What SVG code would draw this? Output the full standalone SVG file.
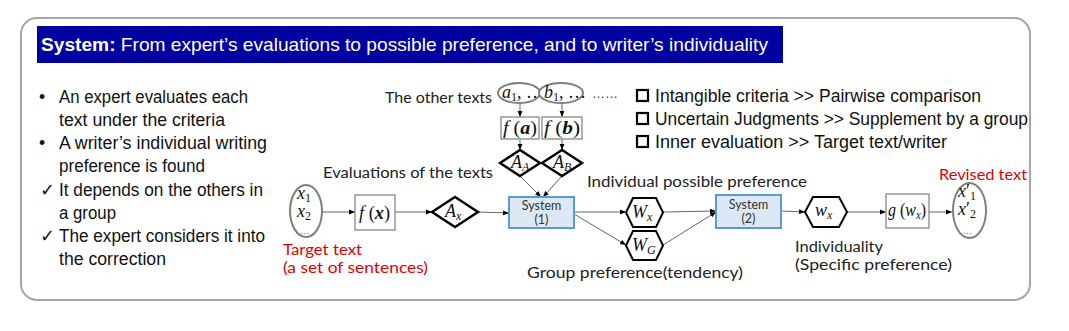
<svg xmlns="http://www.w3.org/2000/svg" width="1069" height="331" viewBox="0 0 1069 331">
<style>
.cal{font-family:"Liberation Sans",Arial,sans-serif;font-size:17.5px;fill:#111}
.gth{font-family:Lato,"Liberation Sans",sans-serif;font-size:14.5px;fill:#222}
.red{fill:#e00000}
.math{font-family:"Liberation Serif","Times New Roman",serif;font-size:18px;fill:#111}
.it{font-style:italic}
.bd{font-weight:bold}
.sub{font-size:12px}
.box{fill:#fff;stroke:#888;stroke-width:1.3}
.ell{fill:#fff;stroke:#7f7f7f;stroke-width:2}
.dia{fill:#fff;stroke:#000;stroke-width:2.4}
.hex{fill:#fff;stroke:#000;stroke-width:2}
.sys{fill:#dce8f5;stroke:#5b9bd5;stroke-width:2}
.sysT{font-family:Lato,"Liberation Sans",sans-serif;font-size:12.5px;fill:#333;text-anchor:middle}
.con line{stroke:#555;stroke-width:0.9;marker-end:url(#ah)}
.chk{fill:none;stroke:#000;stroke-width:2.2}
</style>
<defs>
<marker id="ah" viewBox="0 0 10 10" refX="10" refY="5" markerWidth="6" markerHeight="6" orient="auto" markerUnits="userSpaceOnUse">
<path d="M0,1 L10,5 L0,9 z" fill="#000"/>
</marker>
</defs>
<rect x="0" y="0" width="1069" height="331" fill="#fff"/>
<rect id="frame" x="21" y="18" width="1009" height="282" rx="16" ry="16" fill="#fff" stroke="#a6a6a6" stroke-width="2"/>
<g id="title">
<rect x="37" y="26" width="746" height="37" fill="#0000a0"/>
<text x="41" y="51" font-family="'Liberation Sans',Arial,sans-serif" font-size="18.5" fill="#fff" textLength="727" lengthAdjust="spacingAndGlyphs"><tspan font-weight="bold">System:</tspan> From expert’s evaluations to possible preference, and to writer’s individuality</text>
</g>
<g id="bullets" class="cal">
<text x="39" y="103">•</text><text x="59" y="103" textLength="189" lengthAdjust="spacingAndGlyphs">An expert evaluates each</text>
<text x="59" y="126" textLength="166" lengthAdjust="spacingAndGlyphs">text under the criteria</text>
<text x="39" y="149">•</text><text x="59" y="149" textLength="208" lengthAdjust="spacingAndGlyphs">A writer’s individual writing</text>
<text x="59" y="172" textLength="146" lengthAdjust="spacingAndGlyphs">preference is found</text>
<text x="40" y="196">✓</text><text x="59" y="196" textLength="204" lengthAdjust="spacingAndGlyphs">It depends on the others in</text>
<text x="59" y="219" textLength="57" lengthAdjust="spacingAndGlyphs">a group</text>
<text x="40" y="242">✓</text><text x="59" y="242" textLength="206" lengthAdjust="spacingAndGlyphs">The expert considers it into</text>
<text x="59" y="265" textLength="107" lengthAdjust="spacingAndGlyphs">the correction</text>
</g>
<g id="checklist" class="cal">
<rect class="chk" x="637" y="90" width="11" height="11"/>
<text x="655" y="101.5" textLength="326" lengthAdjust="spacingAndGlyphs">Intangible criteria &gt;&gt; Pairwise comparison</text>
<rect class="chk" x="637" y="113" width="11" height="11"/>
<text x="655" y="124.5" textLength="373" lengthAdjust="spacingAndGlyphs">Uncertain Judgments &gt;&gt; Supplement by a group</text>
<rect class="chk" x="637" y="136" width="11" height="11"/>
<text x="655" y="147.5" textLength="292" lengthAdjust="spacingAndGlyphs">Inner evaluation &gt;&gt; Target text/writer</text>
</g>
<text id="dots" x="592" y="98" font-family="'Liberation Sans',sans-serif" font-size="13" fill="#333">……</text>
<g id="labels" class="gth">
<text x="385" y="103" textLength="107" lengthAdjust="spacingAndGlyphs">The other texts</text>
<text x="323" y="178" textLength="170" lengthAdjust="spacingAndGlyphs">Evaluations of the texts</text>
<text class="red" x="283" y="255" textLength="79" lengthAdjust="spacingAndGlyphs">Target text</text>
<text class="red" x="283" y="273" textLength="145" lengthAdjust="spacingAndGlyphs">(a set of sentences)</text>
<text x="587" y="187" textLength="220" lengthAdjust="spacingAndGlyphs">Individual possible preference</text>
<text x="527" y="278" textLength="216" lengthAdjust="spacingAndGlyphs">Group preference(tendency)</text>
<text x="795" y="252" textLength="88" lengthAdjust="spacingAndGlyphs">Individuality</text>
<text x="795" y="270" textLength="157" lengthAdjust="spacingAndGlyphs">(Specific preference)</text>
<text class="red" x="939" y="180" textLength="88" lengthAdjust="spacingAndGlyphs">Revised text</text>
</g>
<g id="connectors" class="con">
<line x1="520" y1="103" x2="520" y2="117"/>
<line x1="562" y1="103" x2="562" y2="117"/>
<line x1="520" y1="139" x2="520" y2="150"/>
<line x1="562" y1="139" x2="562" y2="150"/>
<line x1="520" y1="176" x2="541" y2="197"/>
<line x1="562" y1="176" x2="543" y2="197"/>
<line x1="322" y1="212" x2="355" y2="212"/>
<line x1="395" y1="212" x2="432" y2="212"/>
<line x1="478" y1="212" x2="509" y2="213"/>
<line x1="574" y1="212" x2="626" y2="212"/>
<line x1="574" y1="214" x2="626" y2="245"/>
<line x1="663" y1="212" x2="716" y2="211"/>
<line x1="663" y1="245" x2="716" y2="212"/>
<line x1="781" y1="211" x2="805" y2="212"/>
<line x1="847" y1="212" x2="886" y2="212"/>
<line x1="929" y1="212" x2="952" y2="212"/>
</g>
<g id="node-a">
<ellipse class="ell" cx="519" cy="93" rx="21" ry="10"/>
<text class="math" x="502" y="98" font-size="14.5"><tspan class="it">a</tspan><tspan class="sub" font-size="10" dy="2.5">1</tspan><tspan dy="-2.5">, …</tspan></text>
</g>
<g id="node-b">
<ellipse class="ell" cx="561" cy="93" rx="22" ry="10"/>
<text class="math" x="544" y="98" font-size="14.5"><tspan class="it">b</tspan><tspan class="sub" font-size="10" dy="2.5">1</tspan><tspan dy="-2.5">, …</tspan></text>
</g>
<g id="node-fa">
<rect class="box" x="501" y="117" width="38" height="22"/>
<text class="math" x="503" y="134" textLength="34" lengthAdjust="spacingAndGlyphs"><tspan class="it">f</tspan> (<tspan class="it bd">a</tspan>)</text>
</g>
<g id="node-fb">
<rect class="box" x="542" y="117" width="40" height="22"/>
<text class="math" x="544" y="134" textLength="36" lengthAdjust="spacingAndGlyphs"><tspan class="it">f</tspan> (<tspan class="it bd">b</tspan>)</text>
</g>
<g id="node-AA">
<polygon class="dia" points="500,163 520,150 540,163 520,176"/>
<text class="math" x="511" y="168" font-size="15.5"><tspan class="it">A</tspan><tspan class="sub it" font-size="10" dy="2.5">A</tspan></text>
</g>
<g id="node-AB">
<polygon class="dia" points="542,163 562,150 582,163 562,176"/>
<text class="math" x="553" y="168" font-size="15.5"><tspan class="it">A</tspan><tspan class="sub it" font-size="10" dy="2.5">B</tspan></text>
</g>
<g id="node-x">
<ellipse class="ell" cx="306" cy="211" rx="16" ry="26"/>
<text class="math" font-size="16"><tspan class="it" x="297" y="199">x</tspan><tspan class="sub" font-size="11" dy="2.5">1</tspan><tspan class="it" x="297" y="217">x</tspan><tspan class="sub" font-size="11" dy="2.5">2</tspan><tspan x="300" y="234" font-size="9">…</tspan></text>
</g>
<g id="node-fx">
<rect class="box" x="355" y="195" width="40" height="35"/>
<text class="math" x="359" y="219" textLength="31" lengthAdjust="spacingAndGlyphs"><tspan class="it">f</tspan> (<tspan class="it bd">x</tspan>)</text>
</g>
<g id="node-Ax">
<polygon class="dia" points="432,212 455,197 478,212 455,227"/>
<text class="math" x="445" y="217" font-size="17"><tspan class="it">A</tspan><tspan class="sub it" dy="3">x</tspan></text>
</g>
<g id="node-sys1">
<rect class="sys" x="509" y="197" width="65" height="31"/>
<text class="sysT" x="541.5" y="210">System</text>
<text class="sysT" x="541.5" y="224">(1)</text>
</g>
<g id="node-Wx">
<polygon class="hex" points="626,212.5 633,198 656,198 663,212.5 656,227 633,227"/>
<text class="math" x="632" y="218"><tspan class="it">W</tspan><tspan class="sub it" dy="3">x</tspan></text>
</g>
<g id="node-WG">
<polygon class="hex" points="626,245.5 633,231 656,231 663,245.5 656,260 633,260"/>
<text class="math" x="632" y="251"><tspan class="it">W</tspan><tspan class="sub it" dy="3">G</tspan></text>
</g>
<g id="node-sys2">
<rect class="sys" x="716" y="195" width="65" height="33"/>
<text class="sysT" x="748.5" y="209">System</text>
<text class="sysT" x="748.5" y="223">(2)</text>
</g>
<g id="node-wx">
<polygon class="hex" stroke-width="2.4" points="805,212 813,197 839,197 847,212 839,227 813,227"/>
<text class="math" x="815" y="216"><tspan class="it">w</tspan><tspan class="sub it" dy="3">x</tspan></text>
</g>
<g id="node-g">
<rect class="box" x="886" y="194" width="43" height="34"/>
<text class="math" x="888" y="216" textLength="38" lengthAdjust="spacingAndGlyphs"><tspan class="it">g</tspan> (<tspan class="it">w</tspan><tspan class="sub it" dy="3">x</tspan><tspan dy="-3">)</tspan></text>
</g>
<g id="node-xr">
<ellipse class="ell" cx="969.5" cy="210.5" rx="16.5" ry="27.5"/>
<text class="math" font-size="16"><tspan class="it" x="958" y="197">x</tspan><tspan>′</tspan><tspan class="sub" font-size="11" dy="3">1</tspan><tspan class="it" x="958" y="215">x</tspan><tspan>′</tspan><tspan class="sub" font-size="11" dy="3">2</tspan><tspan x="963" y="234" font-size="9">…</tspan></text>
</g>
</svg>
